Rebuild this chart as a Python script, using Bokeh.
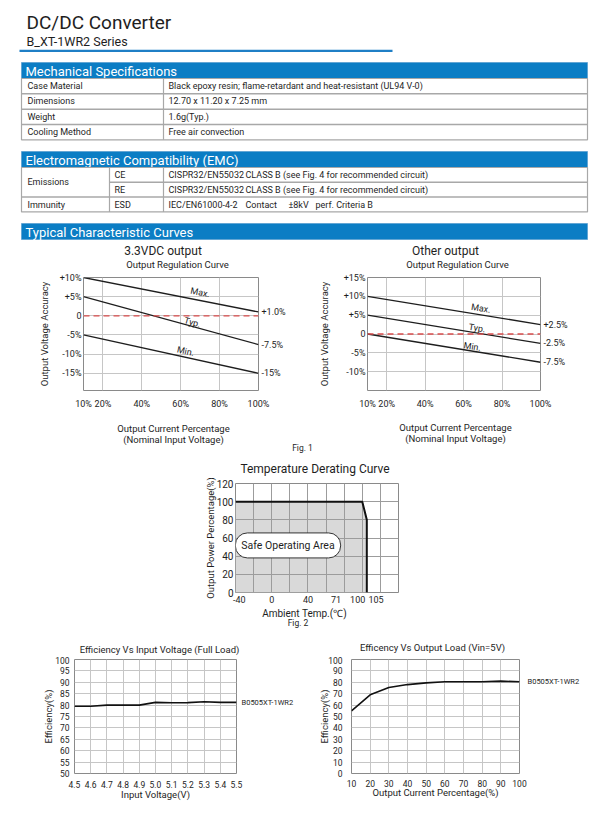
import math
from bokeh.plotting import figure
from bokeh.layouts import column, row
from bokeh.models import Range1d, FixedTicker, Label, Span, Title, LinearAxis
from bokeh.embed import file_html
from bokeh.resources import INLINE
from bokeh.core.properties import value

FONT = "Roboto"
BLUE = "#0b7dc4"
INK = "#1e1e1e"
GRID = "#c6c6c6"
FRAME = "#8a8a8a"
TABLE_LINE = "#a8a8a8"
W = 610

# ---------------- data ----------------
title_main = "DC/DC Converter"
title_series = "B_XT-1WR2 Series"
section_titles = ["Mechanical Specifications",
                  "Electromagnetic Compatibility (EMC)",
                  "Typical Characteristic Curves"]

mech_items = ["Case Material", "Dimensions", "Weight", "Cooling Method"]
mech_values = ["Black epoxy resin; flame-retardant and heat-resistant (UL94 V-0)",
               "12.70 x 11.20 x 7.25 mm", "1.6g(Typ.)", "Free air convection"]

emc_groups = ["Emissions", "Immunity"]
emc_items = ["CE", "RE", "ESD"]
emc_standards = ["CISPR32/EN55032", "CISPR32/EN55032", "IEC/EN61000-4-2"]
emc_details = [["CLASS B (see Fig. 4 for recommended circuit)"],
               ["CLASS B (see Fig. 4 for recommended circuit)"],
               ["Contact", "\u00b18kV", "perf. Criteria B"]]

reg_titles = ["3.3VDC output", "Other output"]
reg_subtitle = "Output Regulation Curve"
reg_xlabel = ["Output Current Percentage", "(Nominal Input Voltage)"]
reg_ylabel = "Output Voltage Accuracy"
reg_load = [10, 100]
reg33_max = [10, 1.0]
reg33_typ = [5, -7.5]
reg33_min = [-5, -15]
reg33_end_labels = ["+1.0%", "-7.5%", "-15%"]
regoth_max = [10, 2.5]
regoth_typ = [5, -2.5]
regoth_min = [0, -7.5]
regoth_end_labels = ["+2.5%", "-2.5%", "-7.5%"]
curve_names = ["Max.", "Typ.", "Min."]
reg_x_ticks = [10, 20, 40, 60, 80, 100]
reg33_y_ticks = [10, 5, 0, -5, -10, -15]
regoth_y_ticks = [15, 10, 5, 0, -5, -10]

derate_title = "Temperature Derating Curve"
derate_xlabel = "Ambient Temp.(\u2103)"
derate_ylabel = "Output Power Percentage(%)"
derate_zone = "Safe Operating Area"
derate_temp = [-40, 100, 105, 105]
derate_power = [100, 100, 80, 0]
derate_x_ticks = [-40, 0, 40, 71, 100, 105]
derate_x_labels = ["-40", "0", "40", "71", "100", "105"]
derate_y_ticks = [0, 20, 40, 60, 80, 100, 120]
fig_captions = ["Fig. 1", "Fig. 2"]

eff_titles = ["Efficiency Vs Input Voltage (Full Load)", "Efficency Vs Output Load (Vin=5V)"]
eff_xlabels = ["Input Voltage(V)", "Output Current Percentage(%)"]
eff_ylabel = "Efficiency(%)"
eff_vin = [4.5, 4.6, 4.7, 4.8, 4.9, 5.0, 5.1, 5.2, 5.3, 5.4, 5.5]
eff_vin_values = [79.5, 79.5, 80.0, 80.0, 80.0, 81.2, 81.0, 81.1, 81.5, 81.2, 81.2]
eff_load = [10, 20, 30, 40, 50, 60, 70, 80, 90, 100]
eff_load_values = [55.0, 69.0, 75.5, 78.0, 79.5, 80.5, 80.5, 80.5, 81.0, 80.5]
eff_vin_y_ticks = [50, 55, 60, 65, 70, 75, 80, 85, 90, 95, 100]
eff_load_y_ticks = [0, 10, 20, 30, 40, 50, 60, 70, 80, 90, 100]
model_name = "B0505XT-1WR2"


# ---------------- helpers ----------------
def page_fig(y0, y1):
    """A figure whose data coordinates are the page pixels (used for free text)."""
    p = figure(width=W, height=y1 - y0, x_range=Range1d(0, W), y_range=Range1d(y1, y0),
               output_backend="svg", toolbar_location=None, title_location=None,
               x_axis_location=None, y_axis_location=None,
               min_border_left=0, min_border_right=0, min_border_top=0, min_border_bottom=0)
    p.outline_line_color = None
    p.grid.visible = False
    return p


def put(p, xs, ys, texts, size, color=INK, align="left"):
    p.text(x=xs, y=ys, text=texts, text_font=value(FONT), text_font_size=f"{size}px",
           text_color=color, text_baseline="middle", text_align=align)


def make_fig(box, frame, xr, yr):
    bx0, by0, bx1, by1 = box
    L, T, R, B = frame
    p = figure(width=bx1 - bx0, height=by1 - by0,
               x_range=Range1d(*xr), y_range=Range1d(*yr),
               output_backend="svg", toolbar_location=None, title_location=None,
               min_border_left=L - bx0, min_border_right=bx1 - R,
               min_border_top=T - by0, min_border_bottom=by1 - B)
    p.outline_line_color = FRAME
    p.outline_line_width = 1
    p.border_fill_color = "white"
    for ax in p.axis:
        style_axis(ax)
    p.grid.grid_line_color = GRID

    def conv(px, py):
        x = xr[0] + (px - L) / (R - L) * (xr[1] - xr[0])
        y = yr[1] - (py - T) / (B - T) * (yr[1] - yr[0])
        return x, y
    return p, conv


def style_axis(ax):
    ax.axis_line_color = None
    ax.major_tick_line_color = None
    ax.minor_tick_line_color = None
    ax.major_tick_out = 0
    ax.major_tick_in = 0
    ax.minor_tick_out = 0
    ax.minor_tick_in = 0
    ax.major_label_text_font = FONT
    ax.major_label_text_color = INK


def title(p, text, side, size, offset=0, standoff=0):
    p.add_layout(Title(text=text, align="center", offset=offset, standoff=standoff,
                       text_font=FONT, text_font_size=f"{size}px", text_font_style="normal",
                       text_color=INK), side)


def set_ticks(p, xticks, yticks, xlabels, ylabels, xsize, ysize, xstand, ystand):
    p.xaxis.ticker = FixedTicker(ticks=xticks)
    p.yaxis.ticker = FixedTicker(ticks=yticks)
    p.xaxis.major_label_overrides = {t: l for t, l in zip(xticks, xlabels)}
    p.yaxis.major_label_overrides = {t: l for t, l in zip(yticks, ylabels)}
    p.xaxis.major_label_text_font_size = f"{xsize}px"
    p.yaxis.major_label_text_font_size = f"{ysize}px"
    p.xaxis.major_label_standoff = xstand
    p.yaxis.major_label_standoff = ystand


def right_axis(p, ticks, labels, size, standoff):
    ax = LinearAxis(ticker=FixedTicker(ticks=ticks),
                    major_label_overrides={t: l for t, l in zip(ticks, labels)},
                    major_label_text_font_size=f"{size}px", major_label_standoff=standoff)
    style_axis(ax)
    p.add_layout(ax, "right")


def pct(v):
    if v == 0:
        return "0"
    return f"+{v}%" if v > 0 else f"{v}%"


# ---------------- header (page coordinates) ----------------
hdr = page_fig(0, 240)
put(hdr, [26], [22], [title_main], 19)
put(hdr, [26], [41], [title_series], 12.5)
hdr.quad(left=[19], right=[392], top=[49.3], bottom=[51.5], fill_color="#1f7fc6", line_color=None)

TL, TR = 21, 587
bars_top = [62, 151, 223]
bars_bottom = [78, 167, 239]
hdr.quad(left=[TL] * 3, right=[TR] * 3, top=bars_top, bottom=bars_bottom,
         fill_color=BLUE, line_color="#5a9fd0", line_width=0.8)
put(hdr, [25] * 3, [(a + b) / 2 + 0.5 for a, b in zip(bars_top, bars_bottom)], section_titles, 13,
    color="white")

mech_top, mech_row_h = 78, 15.33
mech_rows_y = [mech_top + mech_row_h * (i + 0.5) for i in range(len(mech_items))]
mech_bottom = mech_top + mech_row_h * len(mech_items)
hdr.quad(left=[TL], right=[TR], top=[mech_top], bottom=[mech_bottom], fill_color=None,
         line_color=TABLE_LINE, line_width=1.2)
sep_y = [mech_top + mech_row_h * (i + 1) for i in range(len(mech_items) - 1)]
hdr.segment(x0=[TL] * len(sep_y), x1=[TR] * len(sep_y), y0=sep_y, y1=sep_y,
            line_color=TABLE_LINE, line_width=1.5)
hdr.segment(x0=[163], x1=[163], y0=[mech_top], y1=[mech_bottom], line_color=TABLE_LINE, line_width=1.2)
put(hdr, [27] * 4, mech_rows_y, mech_items, 9)
put(hdr, [168] * 4, mech_rows_y, mech_values, 9)

emc_top, emc_row_h = 167, 14.8
emc_rows_y = [emc_top + emc_row_h * (i + 0.5) for i in range(len(emc_items))]
emc_bottom = emc_top + emc_row_h * len(emc_items)
hdr.quad(left=[TL], right=[TR], top=[emc_top], bottom=[emc_bottom], fill_color=None,
         line_color=TABLE_LINE, line_width=1.2)
hdr.segment(x0=[109, TL], x1=[TR, TR], y0=[emc_top + emc_row_h, emc_top + 2 * emc_row_h],
            y1=[emc_top + emc_row_h, emc_top + 2 * emc_row_h], line_color=TABLE_LINE, line_width=1.5)
hdr.segment(x0=[109, 163], x1=[109, 163], y0=[emc_top] * 2, y1=[emc_bottom] * 2,
            line_color=TABLE_LINE, line_width=1.2)
put(hdr, [27, 27], [emc_top + emc_row_h, emc_rows_y[2]], emc_groups, 9)
put(hdr, [114] * 3, emc_rows_y, emc_items, 9)
put(hdr, [168] * 3, emc_rows_y, emc_standards, 9)
detail_x = [245, 288, 315]
dx, dy, dt = [], [], []
for i, parts in enumerate(emc_details):
    for j, t in enumerate(parts):
        dx.append(detail_x[j]); dy.append(emc_rows_y[i]); dt.append(t)
put(hdr, dx, dy, dt, 9)

# ---------------- strip A: regulation titles ----------------
stripA = page_fig(240, 271)
put(stripA, [162.5, 445], [250.5, 250.5], reg_titles, 12, align="center")
put(stripA, [177, 457], [264, 264], [reg_subtitle] * 2, 9.5, align="center")


# ---------------- regulation charts ----------------
def regulation(box, frame, yr, yticks, lines, end_labels, name_x, name_up, name_angles,
               ylab_off, ylab_stand):
    p, conv = make_fig(box, frame, (10, 100), yr)
    set_ticks(p, reg_x_ticks, yticks, [f"{t}%" for t in reg_x_ticks], [pct(t) for t in yticks],
              9, 9, 8, 2)
    p.xgrid.ticker = FixedTicker(ticks=[20, 40, 60, 80])
    p.ygrid.ticker = FixedTicker(ticks=yticks)
    p.add_layout(Span(location=0, dimension="width", line_color="#d94c4c", line_dash="6 4",
                      line_width=1.3))
    for ys in lines:
        p.line(reg_load, ys, line_color=INK, line_width=1.3)
    right_axis(p, [ys[-1] for ys in lines], end_labels, 9, 3)
    nx, ny = [], []
    for ys, x in zip(lines, name_x):
        nx.append(x)
        ny.append(ys[0] + (ys[1] - ys[0]) * (x - reg_load[0]) / (reg_load[1] - reg_load[0]))
    p.text(x=nx, y=ny, text=curve_names, angle=[math.radians(a) for a in name_angles],
           y_offset=[-u for u in name_up], text_font=value(FONT), text_font_size="9px",
           text_color=INK, text_align="center", text_baseline="middle")
    title(p, reg_ylabel, "left", 9.5, offset=ylab_off, standoff=ylab_stand)
    return p


reg1 = regulation((0, 271, 305, 416), (83, 277, 258, 390), (-19.5, 10), reg33_y_ticks,
                  [reg33_max, reg33_typ, reg33_min], reg33_end_labels,
                  [70, 66, 62.5], [8, 4, 6], [-11.2, -15.4, -12.4], 6, 14)
reg2 = regulation((305, 271, 610, 416), (367, 276, 540, 390), (-15, 15), regoth_y_ticks,
                  [regoth_max, regoth_typ, regoth_min], regoth_end_labels,
                  [69, 67, 64.5], [6.5, 5, 4.5], [-9.3, -9.3, -9.3], 10.5, 21)

# ---------------- strip B: regulation x labels, Fig. 1, derating title ----------------
stripB = page_fig(416, 476)
put(stripB, [173, 455], [428, 427], [reg_xlabel[0]] * 2, 9.5, align="center")
put(stripB, [173, 455], [439, 438], [reg_xlabel[1]] * 2, 9.5, align="center")
put(stripB, [302], [447], [fig_captions[0]], 8.5, align="center")
put(stripB, [314.5], [468], [derate_title], 12, align="center")

# ---------------- derating chart ----------------
der, convd = make_fig((0, 476, W, 607), (235, 483, 398, 593), (-40, 140), (0, 120))
shown = []
for t in derate_x_labels:
    if t == "-40":
        shown.append("\u2002\u2004" + t)
    elif t == "100":
        shown.append(t + "\u2003")
    elif t == "105":
        shown.append("\u2003\u2003" + t)
    else:
        shown.append(t)
set_ticks(der, derate_x_ticks, derate_y_ticks, shown, [str(v) for v in derate_y_ticks],
          9, 10, 2, 2)
der.xgrid.ticker = FixedTicker(ticks=[-20, 0, 20, 40, 60, 80, 100, 120])
der.ygrid.ticker = FixedTicker(ticks=[20, 40, 60, 80, 100])
der.grid.grid_line_color = "#9c9c9c"
der.patch(derate_temp + [derate_temp[0]], derate_power + [0], fill_color="#d9d9d9",
          line_color=None, level="image")
der.line(derate_temp, derate_power, line_color="#111111", line_width=2)
sx, sy = convd(287.5, 545.5)
der.add_layout(Label(x=sx, y=sy, text=derate_zone, text_font=FONT, text_font_size="10.5px",
                     text_align="center", text_baseline="middle", text_color=INK,
                     background_fill_color="white", border_line_color="#333333",
                     border_line_width=1, border_radius=12, padding=6))
title(der, derate_ylabel, "left", 9.5, offset=0, standoff=-5)

# ---------------- strip C: derating x label, Fig. 2, efficiency titles ----------------
stripC = page_fig(607, 656)
put(stripC, [304], [613], [derate_xlabel], 10, align="center")
put(stripC, [297.5], [622], [fig_captions[1]], 8.5, align="center")
put(stripC, [159, 432], [648.5, 647], eff_titles, 9.5, align="center")

# ---------------- efficiency charts ----------------
ef1, _ = make_fig((0, 656, 305, 814), (74, 659, 236, 773), (4.5, 5.5), (50, 100))
set_ticks(ef1, eff_vin, eff_vin_y_ticks, [f"{v:.1f}" for v in eff_vin],
          [str(v) for v in eff_vin_y_ticks], 8.5, 8.5, 7, 5)
ef1.xgrid.ticker = FixedTicker(ticks=eff_vin)
ef1.ygrid.ticker = FixedTicker(ticks=eff_vin_y_ticks)
ef1.line(eff_vin, eff_vin_values, line_color="#111111", line_width=1.6)
right_axis(ef1, [eff_vin_values[-1]], [model_name], 7.5, 5)
title(ef1, eff_ylabel, "left", 9.5, offset=-0.5, standoff=-2)
title(ef1, eff_xlabels[0], "below", 9.5, offset=-7.5, standoff=-7)

ef2, _ = make_fig((305, 656, W, 814), (351, 659, 519, 776), (10, 100), (0, 100))
set_ticks(ef2, eff_load, eff_load_y_ticks, [str(v) for v in eff_load],
          [str(v) for v in eff_load_y_ticks], 8.5, 8.5, 6, 9)
ef2.xgrid.ticker = FixedTicker(ticks=eff_load)
ef2.ygrid.ticker = FixedTicker(ticks=eff_load_y_ticks)
ef2.line(eff_load, eff_load_values, line_color="#111111", line_width=1.6)
right_axis(ef2, [eff_load_values[-1]], [model_name], 7.5, 8)
title(ef2, eff_ylabel, "left", 9.5, offset=-3.5, standoff=-8)
title(ef2, eff_xlabels[1], "below", 9.5, offset=2, standoff=-7.7)

layout = column(row(hdr), row(stripA), row(reg1, reg2), row(stripB), row(der), row(stripC),
                row(ef1, ef2))
open("out.html", "w").write(file_html(layout, INLINE))
